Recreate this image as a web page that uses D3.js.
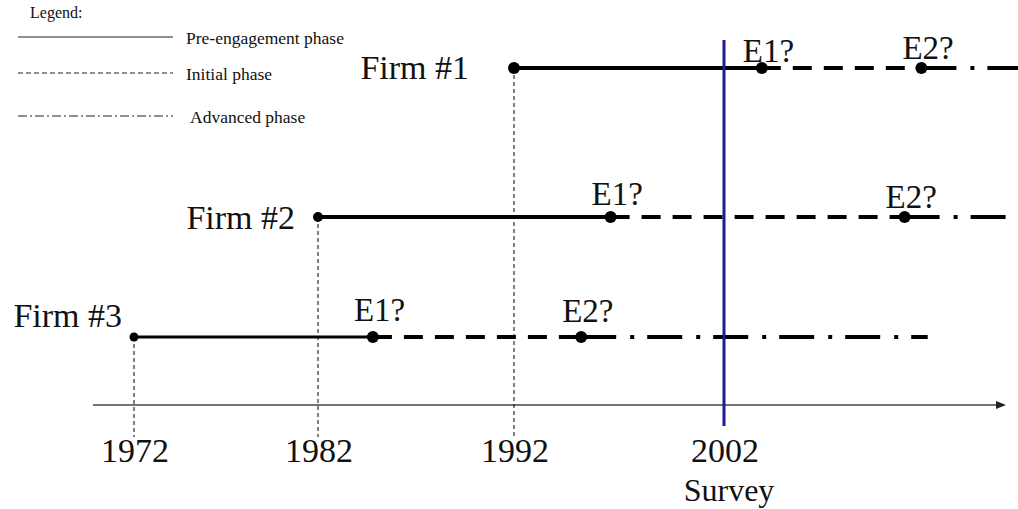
<!DOCTYPE html>
<html>
<head>
<meta charset="utf-8">
<script src="https://cdn.jsdelivr.net/npm/d3@7"></script>
<style>
  html, body { margin: 0; padding: 0; background: #fff; }
  svg { display: block; }
  text { font-family: "Liberation Serif", "DejaVu Serif", serif; fill: #111; }
</style>
</head>
<body>
<svg id="chart" width="1018" height="509"></svg>
<script>
// ---------- data ----------
const tickYears = [1972, 1982, 1992, 2002];
const surveyYear = 2002;
const surveyLabel = "Survey";
const firms = ["Firm #1", "Firm #2", "Firm #3"];
const startYears = [1992, 1982, 1972];
const e1Years = [2003.8, 1996.6, 1984.8];
const e2Years = [2011.4, 2010.6, 1995.2];
const endYears = [2016, 2016, 2011.7];
const eventLabels = ["E1?", "E2?"];
const legendTitle = "Legend:";
const phaseNames = ["Pre-engagement phase", "Initial phase", "Advanced phase"];

// ---------- layout ----------
const svg = d3.select("#chart");

// hand-drawn timeline: piecewise axis spacing
const x = d3.scaleLinear().domain(tickYears).range([134, 318, 514, 724]);
const y = d3.scaleOrdinal().domain(firms).range([68, 217, 337]);

const axisY = 405;
const dashPhase = ["none", "19,12", "35,14,4,13"];
const legendDash = ["none", "5,3", "9,3,2,3"];

// label layout per firm
const firmLabelDx = [-45, -23, -12];
const firmLabelDy = [11, 12, -10];
const eLabelDy = [[-6, -9], [-12, -9], [-16, -15]];
const lineW = [4, 4, 3.2];
const startR = [6, 5, 4.5];

// ---------- legend ----------
const lg = svg.append("g");
lg.append("text").attr("x", 30).attr("y", 18).attr("font-size", 16).text(legendTitle);
const legendY = [37, 73, 116];
const legendTextX = [186, 186, 190];
phaseNames.forEach((name, i) => {
  lg.append("line")
    .attr("x1", 18).attr("x2", 173)
    .attr("y1", legendY[i]).attr("y2", legendY[i])
    .attr("stroke", "#222").attr("stroke-width", 1.1)
    .attr("stroke-dasharray", legendDash[i]);
  lg.append("text").attr("x", legendTextX[i]).attr("y", legendY[i] + 7)
    .attr("font-size", 17.5).text(name);
});

// ---------- axis ----------
const ax = svg.append("g");
ax.append("line")
  .attr("x1", 93).attr("x2", 998).attr("y1", axisY).attr("y2", axisY)
  .attr("stroke", "#444").attr("stroke-width", 1.5);
ax.append("path")
  .attr("d", `M${1006},${axisY} L${996},${axisY - 4} L${996},${axisY + 4} Z`)
  .attr("fill", "#222");

tickYears.forEach(t => {
  ax.append("text")
    .attr("x", x(t) + 1).attr("y", 462)
    .attr("text-anchor", "middle").attr("font-size", 34)
    .text(t);
});
ax.append("text")
  .attr("x", x(surveyYear) + 5).attr("y", 501)
  .attr("text-anchor", "middle").attr("font-size", 32)
  .text(surveyLabel);

// ---------- dashed guide verticals ----------
firms.forEach((f, i) => {
  svg.append("line")
    .attr("x1", x(startYears[i])).attr("x2", x(startYears[i]))
    .attr("y1", y(f)).attr("y2", 437)
    .attr("stroke", "#000").attr("stroke-width", 1)
    .attr("stroke-dasharray", "4,3");
});

// ---------- firm timelines ----------
firms.forEach((f, i) => {
  const g = svg.append("g");
  const yy = y(f);
  const bounds = [startYears[i], e1Years[i], e2Years[i], endYears[i]];
  for (let p = 0; p < 3; p++) {
    g.append("line")
      .attr("x1", x(bounds[p])).attr("x2", x(bounds[p + 1]))
      .attr("y1", yy).attr("y2", yy)
      .attr("stroke", "#000")
      .attr("stroke-width", p === 0 ? lineW[i] : 4)
      .attr("stroke-dasharray", dashPhase[p]);
  }
  g.append("circle").attr("cx", x(startYears[i])).attr("cy", yy).attr("r", startR[i]).attr("fill", "#000");
  [e1Years[i], e2Years[i]].forEach((ev, k) => {
    g.append("circle").attr("cx", x(ev)).attr("cy", yy).attr("r", 6).attr("fill", "#000");
    g.append("text")
      .attr("x", x(ev) - 19).attr("y", yy + eLabelDy[i][k])
      .attr("font-size", 33).text(eventLabels[k]);
  });
  g.append("text")
    .attr("x", x(startYears[i]) + firmLabelDx[i]).attr("y", yy + firmLabelDy[i])
    .attr("text-anchor", "end").attr("font-size", 34)
    .text(f);
});

// ---------- survey line ----------
svg.append("line")
  .attr("x1", x(surveyYear)).attr("x2", x(surveyYear))
  .attr("y1", 40).attr("y2", 426)
  .attr("stroke", "#1c1c96").attr("stroke-width", 3);
</script>
</body>
</html>
